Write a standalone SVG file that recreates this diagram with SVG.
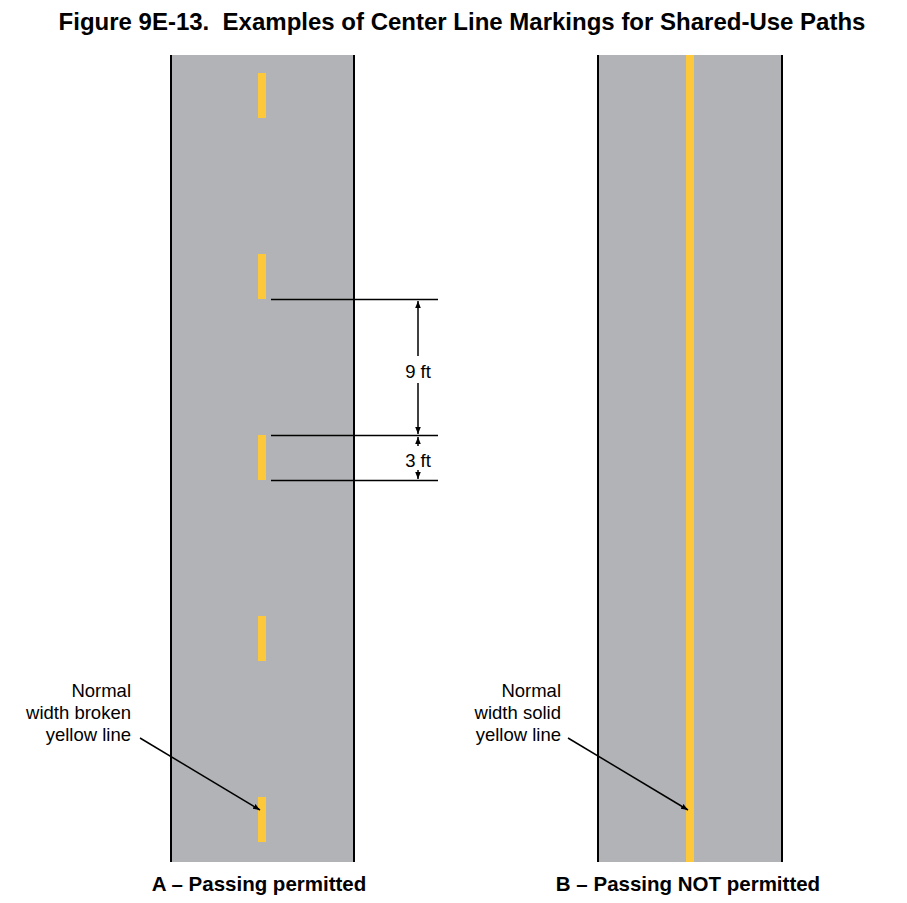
<svg xmlns="http://www.w3.org/2000/svg" width="907" height="903" viewBox="0 0 907 903">
<style>
.road{fill:#b2b3b6}
.edge{stroke:#000;stroke-width:2}
.y{fill:#fdc93a}
.ln{stroke:#000;stroke-width:1.5;fill:none}
.t{font-family:"Liberation Sans",Arial,sans-serif;font-size:18.5px;fill:#000}
.b{font-family:"Liberation Sans",Arial,sans-serif;font-weight:bold;fill:#000;text-anchor:middle}
</style>
<defs>
<marker id="ah" viewBox="0 0 10 10" refX="10" refY="5" markerWidth="7" markerHeight="7" orient="auto-start-reverse" markerUnits="userSpaceOnUse">
<path d="M0,1 L10,5 L0,9 Z" fill="#000"/>
</marker>
</defs>
<rect width="907" height="903" fill="#fff"/>
<text class="b" x="462" y="30" font-size="24" xml:space="preserve">Figure 9E-13.  Examples of Center Line Markings for Shared-Use Paths</text>
<g id="roadA">
<rect class="road" x="171" y="55" width="183" height="807"/>
<line class="edge" x1="171" y1="55" x2="171" y2="862"/>
<line class="edge" x1="354" y1="55" x2="354" y2="862"/>
<rect class="y" x="258" y="73" width="8" height="45"/>
<rect class="y" x="258" y="254" width="8" height="45"/>
<rect class="y" x="258" y="435" width="8" height="45"/>
<rect class="y" x="258" y="616" width="8" height="45"/>
<rect class="y" x="258" y="797" width="8" height="45"/>
</g>
<g id="roadB">
<rect class="road" x="598" y="55" width="184" height="807"/>
<line class="edge" x1="598" y1="55" x2="598" y2="862"/>
<line class="edge" x1="782" y1="55" x2="782" y2="862"/>
<rect class="y" x="686" y="55" width="8" height="807"/>
</g>
<g id="connectors">
<line class="ln" x1="271" y1="299.5" x2="438" y2="299.5"/>
<line class="ln" x1="271" y1="435.5" x2="438" y2="435.5"/>
<line class="ln" x1="271" y1="480.5" x2="438" y2="480.5"/>
<line class="ln" x1="418" y1="301" x2="418" y2="356" marker-start="url(#ah)"/>
<line class="ln" x1="418" y1="383" x2="418" y2="434" marker-end="url(#ah)"/>
<line class="ln" x1="418" y1="437" x2="418" y2="446" marker-start="url(#ah)"/>
<line class="ln" x1="418" y1="470" x2="418" y2="479" marker-end="url(#ah)"/>
<line class="ln" x1="140" y1="738" x2="260" y2="810" marker-end="url(#ah)"/>
<line class="ln" x1="568" y1="738" x2="688" y2="810" marker-end="url(#ah)"/>
</g>
<g id="labels">
<text class="t" x="418" y="378" text-anchor="middle">9 ft</text>
<text class="t" x="418" y="467" text-anchor="middle">3 ft</text>
<text class="t" x="131" y="697" text-anchor="end">Normal</text>
<text class="t" x="131" y="719" text-anchor="end">width broken</text>
<text class="t" x="131" y="741" text-anchor="end">yellow line</text>
<text class="t" x="561" y="697" text-anchor="end">Normal</text>
<text class="t" x="561" y="719" text-anchor="end">width solid</text>
<text class="t" x="561" y="741" text-anchor="end">yellow line</text>
<text class="b" x="259" y="891" font-size="20.5">A – Passing permitted</text>
<text class="b" x="688" y="891" font-size="20.5">B – Passing NOT permitted</text>
</g>
</svg>
